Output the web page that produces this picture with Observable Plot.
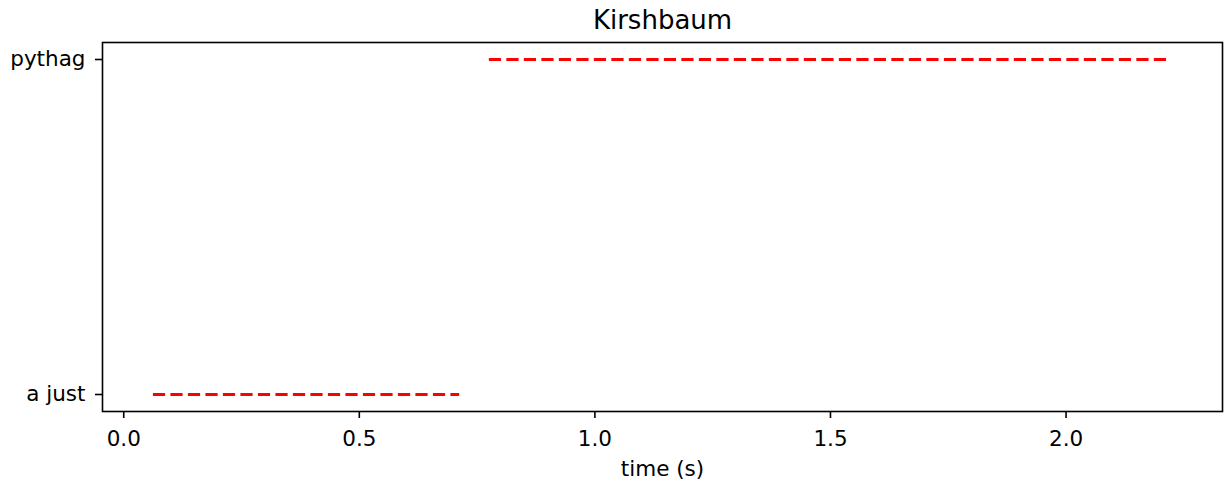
<!DOCTYPE html>
<html>
<head>
<meta charset="utf-8">
<script src="https://cdn.jsdelivr.net/npm/d3@7"></script>
<script src="https://cdn.jsdelivr.net/npm/@observablehq/plot@0.6"></script>
<style>
  html, body { margin: 0; padding: 0; background: white; }
</style>
</head>
<body>
<div id="chart"></div>
<script>
// Tuning categories, top to bottom
const categories = ["pythag", "a just"];

// Time spans (seconds) during which each tuning is active
const segLabels = ["a just", "pythag"];
const segStart = [0.063, 0.776];
const segEnd = [0.713, 2.224];

const xTicks = [0.0, 0.5, 1.0, 1.5, 2.0];
const titleText = "Kirshbaum";
const xLabel = "time (s)";

const segments = segLabels.map((label, i) => ({label, start: segStart[i], end: segEnd[i]}));

// 5% margin around the data extent along x
const lo = d3.min(segStart), hi = d3.max(segEnd);
const pad = (hi - lo) * 0.05;

const chart = Plot.plot({
  width: 1225,
  height: 484,
  marginLeft: 102,
  marginRight: 3,
  marginTop: 42,
  marginBottom: 73,
  style: {fontFamily: "'DejaVu Sans', sans-serif", fontSize: "21.5px", background: "white", color: "black"},
  x: {domain: [lo - pad, hi + pad]},
  y: {type: "point", domain: categories, padding: 0.05},
  marks: [
    Plot.ruleY(segments, {
      y: "label", x1: "start", x2: "end",
      stroke: "#ff0000", strokeWidth: 3.1, strokeDasharray: "12.2,5.3"
    }),
    Plot.frame({stroke: "black", strokeWidth: 1.6}),
    Plot.axisX({ticks: xTicks, tickFormat: d3.format(".1f"), tickSize: 7, tickPadding: 12,
                strokeWidth: 1.6, label: null, fontSize: 21.5}),
    Plot.axisY({tickSize: 7, tickPadding: 10, strokeWidth: 1.6, label: null, fontSize: 21.5}),
    Plot.text([titleText], {frameAnchor: "top", lineAnchor: "middle", dy: -22, fontSize: 26}),
    Plot.text([xLabel], {frameAnchor: "bottom", lineAnchor: "middle", dy: 58, fontSize: 21.5})
  ]
});

document.getElementById("chart").append(chart);
</script>
</body>
</html>
